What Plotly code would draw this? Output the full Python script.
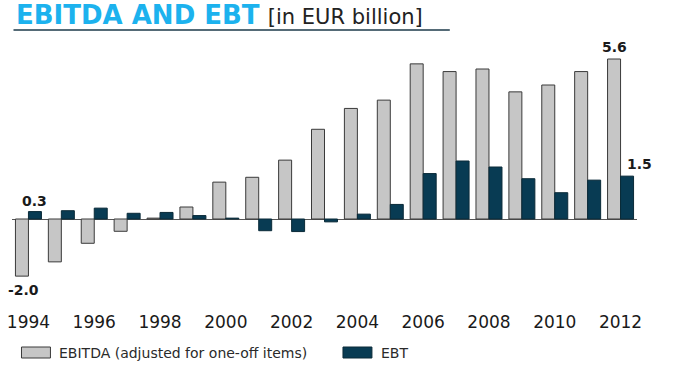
import plotly.graph_objects as go

years = [str(y) for y in range(1994, 2013)]
ebitda = [-2.0, -1.5, -0.85, -0.43, 0.03, 0.42, 1.29, 1.46, 2.06, 3.14, 3.87, 4.16, 5.43, 5.16, 5.25, 4.45, 4.69, 5.16, 5.6]
ebt = [0.26, 0.29, 0.38, 0.2, 0.23, 0.12, 0.03, -0.41, -0.44, -0.1, 0.17, 0.51, 1.59, 2.03, 1.82, 1.41, 0.92, 1.36, 1.5]
tick_vals = [str(y) for y in range(1994, 2013, 2)]
tick_labels = tick_vals
series_names = ["EBITDA (adjusted for one-off items)", "EBT"]

W, H = 673, 367
# plot area in window pixels
PL, PR, PT, PB = 11.5, 637.5, 42, 310
L, R, T, B = PL, W - PR, PT, H - PB
PW, PH = PR - PL, PB - PT
zero_px = 219
ppu = (zero_px - 59) / 5.6
ymax = (zero_px - PT) / ppu
ymin = -(PB - zero_px) / ppu


def px(x):
    return (x - PL) / PW


def py(y):
    return (PB - y) / PH


fig = go.Figure()
fig.add_trace(go.Bar(x=years, y=ebitda, name=series_names[0],
                     marker=dict(color="#c6c6c6", line=dict(color="#3a3a3a", width=1))))
fig.add_trace(go.Bar(x=years, y=ebt, name=series_names[1],
                     marker=dict(color="#083b53", line=dict(color="#0a2a38", width=1))))

fig.update_layout(
    width=W, height=H,
    margin=dict(l=L, r=R, t=T, b=B, pad=0, autoexpand=False),
    paper_bgcolor="white", plot_bgcolor="white",
    barmode="group", bargap=0.21, bargroupgap=0,
    showlegend=False,
    font=dict(family="DejaVu Sans", color="#222222"),
    xaxis=dict(type="category", categoryorder="array", categoryarray=years,
               range=[-0.5, len(years) - 0.5],
               tickmode="array", tickvals=tick_vals, ticktext=tick_labels,
               showgrid=False, showline=False, ticks="",
               tickfont=dict(family="DejaVu Sans", size=17, color="#1a1a1a")),
    yaxis=dict(range=[ymin, ymax], showgrid=False, showticklabels=False, ticks="",
               showline=False, zeroline=True, zerolinecolor="#555555", zerolinewidth=1),
)

lab_font = dict(family="DejaVu Sans", size=14, color="#1a1a1a")
first, last = 0, len(years) - 1
# value labels (category index positions on the x axis)
fig.add_annotation(x=first, y=ebt[first], text="<b>0.3</b>",
                   xref="x", yref="y", xshift=6.5, yshift=1, yanchor="bottom", showarrow=False, font=lab_font)
fig.add_annotation(x=first, y=ebitda[first], text=f"<b>{ebitda[first]:.1f}</b>",
                   xref="x", yref="y", xshift=-5, yshift=-4, yanchor="top", showarrow=False, font=lab_font)
fig.add_annotation(x=last, y=ebitda[last], text=f"<b>{ebitda[last]:.1f}</b>",
                   xref="x", yref="y", xshift=-6.5, yshift=2.5, yanchor="bottom", showarrow=False, font=lab_font)
fig.add_annotation(x=last, y=ebt[last], text=f"<b>{ebt[last]:.1f}</b>",
                   xref="x", yref="y", xshift=19, yshift=2.5, yanchor="bottom", showarrow=False, font=lab_font)

# title
fig.add_annotation(x=px(14), y=py(15), xref="paper", yref="paper", xanchor="left", yanchor="middle",
                   showarrow=False,
                   text="<b>EBITDA AND EBT</b> <span style='font-size:21px;color:#222222'>[in EUR billion]</span>",
                   font=dict(family="DejaVu Sans", size=26, color="#1cb2ee"))
fig.add_shape(type="line", xref="paper", yref="paper", x0=px(13), x1=px(450), y0=py(30), y1=py(30),
              line=dict(color="#1d3a4a", width=1.5))

# legend (manual)
leg_font = dict(family="DejaVu Sans", size=14, color="#2a2a2a")
fig.add_shape(type="rect", xref="paper", yref="paper", x0=px(21), x1=px(50), y0=py(358), y1=py(347),
              fillcolor="#c6c6c6", line=dict(color="#3a3a3a", width=1))
fig.add_annotation(x=px(57), y=py(352.5), xref="paper", yref="paper", xanchor="left", yanchor="middle",
                   showarrow=False, text=series_names[0], font=leg_font)
fig.add_shape(type="rect", xref="paper", yref="paper", x0=px(343), x1=px(372), y0=py(358), y1=py(347),
              fillcolor="#083b53", line=dict(color="#0a2a38", width=1))
fig.add_annotation(x=px(379), y=py(352.5), xref="paper", yref="paper", xanchor="left", yanchor="middle",
                   showarrow=False, text=series_names[1], font=leg_font)

fig.write_html("out.html", config={"displayModeBar": False},
               post_script="document.body.style.margin='0';document.body.style.overflow='hidden';")
